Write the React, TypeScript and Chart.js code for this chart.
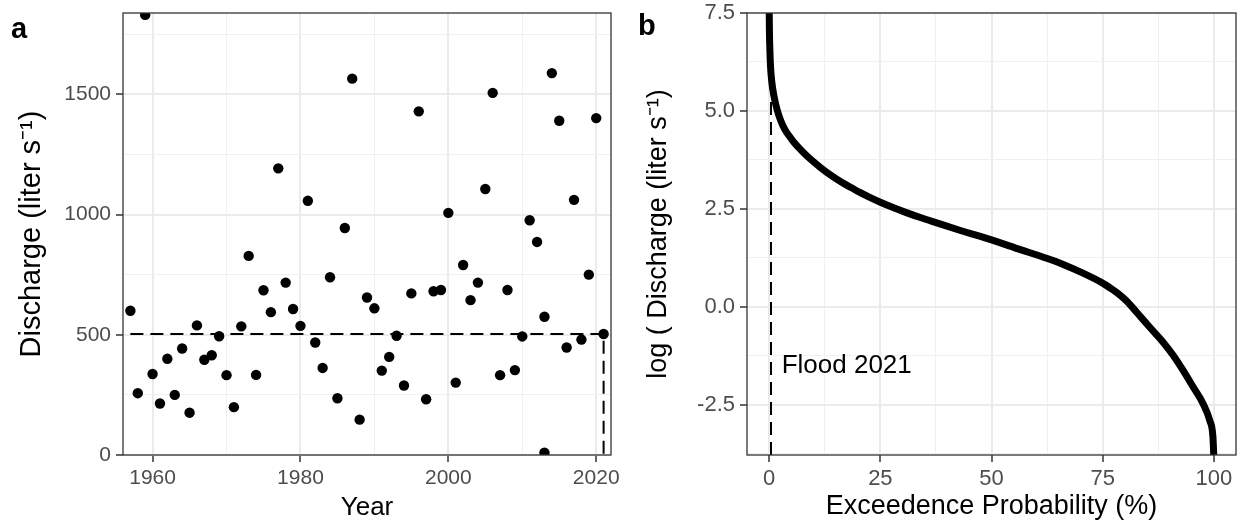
import React, { useEffect, useRef } from "react";
import { Chart, registerables } from "chart.js";

Chart.register(...registerables);

const FONT = "'Liberation Sans', Arial, Helvetica, sans-serif";

// ---------- Panel a: annual peak discharge ----------
const YEARS = [
  1957, 1958, 1959, 1960, 1961, 1962, 1963, 1964, 1965, 1966, 1967, 1968, 1969,
  1970, 1971, 1972, 1973, 1974, 1975, 1976, 1977, 1978, 1979, 1980, 1981, 1982,
  1983, 1984, 1985, 1986, 1987, 1988, 1989, 1990, 1991, 1992, 1993, 1994, 1995,
  1996, 1997, 1998, 1999, 2000, 2001, 2002, 2003, 2004, 2005, 2006, 2007, 2008,
  2009, 2010, 2011, 2012, 2013, 2013, 2014, 2015, 2016, 2017, 2018, 2019, 2020,
  2021,
];
const PEAK_DISCHARGE = [
  600, 257, 1830, 337, 214, 400, 250, 443, 176, 539, 396, 415, 494,
  332, 199, 535, 828, 333, 685, 594, 1192, 717, 607, 537, 1057, 468,
  362, 739, 236, 944, 1565, 147, 655, 610, 351, 408, 496, 289, 672,
  1429, 232, 681, 686, 1007, 301, 790, 644, 717, 1106, 1506, 332, 686,
  353, 493, 976, 886, 575, 10, 1588, 1390, 447, 1061, 480, 750, 1401,
  503,
];
const FLOOD_YEAR = 2021;
const FLOOD_DISCHARGE = 503;
const YEAR_RANGE = [1956, 2022];
const YEAR_TICKS = [1960, 1980, 2000, 2020];
const YEAR_MINOR = [1970, 1990, 2010];
const DISCHARGE_RANGE = [0, 1838];
const DISCHARGE_TICKS = [0, 500, 1000, 1500];
const DISCHARGE_MINOR = [250, 750, 1250, 1750];

// ---------- Panel b: flow duration curve ----------
const EXCEEDANCE = [
  0, 0.05, 0.15, 0.3, 0.6, 1.0, 1.8, 2.6, 3.5, 4.5, 5.5, 7.0, 8.5, 10, 11.5,
  14, 16.3, 18.5, 20.4, 22.5, 25, 28, 31, 34, 37.5, 43, 50, 56, 62.4, 66, 70.6,
  74.8, 77, 78.6, 80.4, 82.6, 85.6, 88.6, 90.9, 93.1, 95.4, 97.6, 99.1, 99.8,
  100,
];
const LOG_DISCHARGE = [
  7.51, 7.0, 6.55, 6.12, 5.72, 5.42, 5.02, 4.75, 4.53, 4.36, 4.21, 4.02, 3.85,
  3.7, 3.56, 3.35, 3.18, 3.04, 2.92, 2.8, 2.67, 2.53, 2.4, 2.28, 2.15, 1.95,
  1.71, 1.48, 1.24, 1.09, 0.86, 0.62, 0.46, 0.33, 0.15, -0.13, -0.52, -0.9,
  -1.24, -1.62, -2.05, -2.47, -2.9, -3.3, -3.78,
];
const FLOOD_EXCEEDANCE = 0.4;
const FLOOD_LABEL = "Flood 2021";
const FLOOD_LABEL_POS = [2.8, -1.5];
const PROB_RANGE = [-5, 105];
const PROB_TICKS = [0, 25, 50, 75, 100];
const PROB_MINOR = [12.5, 37.5, 62.5, 87.5];
const LOG_RANGE = [-3.78, 7.5];
const LOG_TICKS = [-2.5, 0, 2.5, 5, 7.5];
const LOG_MINOR = [-3.75, -1.25, 1.25, 3.75, 6.25];

function makeAxis(o: {
  range: number[];
  major: number[];
  minor: number[];
  fmt: (v: number) => string;
  title: string;
  titleSize: number;
  titlePad: any;
  tickSize: number;
  size: number;
  horizontal: boolean;
  labelPad: number;
}) {
  const all = [...o.major, ...o.minor].sort((a, b) => a - b);
  const isMajor = (v: any) =>
    o.major.some((m) => Math.abs(m - Number(v)) < 1e-6);
  return {
    type: "linear",
    position: o.horizontal ? "bottom" : "left",
    min: o.range[0],
    max: o.range[1],
    afterBuildTicks: (s: any) => {
      s.ticks = all.map((v) => ({ value: v }));
    },
    afterFit: (s: any) => {
      if (o.horizontal) s.height = o.size;
      else s.width = o.size;
      s.paddingTop = 0;
      s.paddingBottom = 0;
      s.paddingLeft = 0;
      s.paddingRight = 0;
    },
    grid: {
      color: (c: any) => (isMajor(c.tick?.value) ? "#EBEBEB" : "#F0F0F0"),
      lineWidth: (c: any) => (isMajor(c.tick?.value) ? 2 : 1),
      tickColor: (c: any) =>
        isMajor(c.tick?.value) ? "#333333" : "rgba(0,0,0,0)",
      tickWidth: 1.5,
      tickLength: 7,
      drawTicks: true,
    },
    border: { display: false },
    ticks: {
      autoSkip: false,
      maxRotation: 0,
      minRotation: 0,
      padding: o.labelPad,
      color: "#4D4D4D",
      font: { family: FONT, size: o.tickSize },
      callback: (v: any) => (isMajor(v) ? o.fmt(Number(v)) : ""),
    },
    title: {
      display: true,
      text: o.title,
      color: "#000000",
      font: { family: FONT, size: o.titleSize, lineHeight: 1.2 },
      padding: o.titlePad,
    },
  };
}

const panelBorder = {
  id: "panelBorder",
  afterDatasetsDraw(chart: any) {
    const { ctx, chartArea: a } = chart;
    ctx.save();
    ctx.strokeStyle = "#333333";
    ctx.lineWidth = 1.3;
    ctx.strokeRect(a.left, a.top, a.right - a.left, a.bottom - a.top);
    ctx.restore();
  },
};

const floodLabel = {
  id: "floodLabel",
  afterDatasetsDraw(chart: any) {
    const { ctx } = chart;
    const x = chart.scales.x.getPixelForValue(FLOOD_LABEL_POS[0]);
    const y = chart.scales.y.getPixelForValue(FLOOD_LABEL_POS[1]);
    ctx.save();
    ctx.font = `26px ${FONT}`;
    ctx.fillStyle = "#000000";
    ctx.textAlign = "left";
    ctx.textBaseline = "middle";
    ctx.fillText(FLOOD_LABEL, x, y);
    ctx.restore();
  },
};

const commonPlugins = {
  legend: { display: false },
  tooltip: { enabled: false },
  title: { display: false },
};

export default function App() {
  const leftRef = useRef<HTMLCanvasElement>(null);
  const rightRef = useRef<HTMLCanvasElement>(null);

  useEffect(() => {
    const left = new Chart(leftRef.current as HTMLCanvasElement, {
      type: "scatter",
      data: {
        datasets: [
          {
            data: YEARS.map((x, i) => ({ x, y: PEAK_DISCHARGE[i] })),
            pointRadius: 5.2,
            pointBackgroundColor: "#000000",
            pointBorderWidth: 0,
            showLine: false,
          } as any,
          {
            data: [
              { x: YEARS[0], y: FLOOD_DISCHARGE },
              { x: FLOOD_YEAR, y: FLOOD_DISCHARGE },
              { x: FLOOD_YEAR, y: DISCHARGE_RANGE[0] },
            ],
            showLine: true,
            pointRadius: 0,
            borderColor: "#000000",
            borderWidth: 2,
            borderDash: [13, 7],
            tension: 0,
            clip: 0,
          } as any,
        ],
      },
      options: {
        responsive: false,
        animation: false,
        events: [],
        layout: { padding: { left: 0, right: 19, top: 13, bottom: 0 } },
        plugins: commonPlugins,
        scales: {
          x: makeAxis({
            range: YEAR_RANGE,
            major: YEAR_TICKS,
            minor: YEAR_MINOR,
            fmt: (v) => String(v),
            title: "Year",
            titleSize: 26,
            titlePad: { top: 0, bottom: 2 },
            tickSize: 21,
            size: 70,
            horizontal: true,
            labelPad: 4,
          }),
          y: makeAxis({
            range: DISCHARGE_RANGE,
            major: DISCHARGE_TICKS,
            minor: DISCHARGE_MINOR,
            fmt: (v) => String(v),
            title: "Discharge (liter s\u207B\u00B9)",
            titleSize: 29,
            titlePad: { top: 15, bottom: 0 },
            tickSize: 21,
            size: 123,
            horizontal: false,
            labelPad: 5,
          }),
        } as any,
      },
      plugins: [panelBorder],
    } as any);

    const right = new Chart(rightRef.current as HTMLCanvasElement, {
      type: "scatter",
      data: {
        datasets: [
          {
            data: EXCEEDANCE.map((x, i) => ({ x, y: LOG_DISCHARGE[i] })),
            showLine: true,
            pointRadius: 0,
            borderColor: "#000000",
            borderWidth: 7,
            cubicInterpolationMode: "monotone",
            borderJoinStyle: "round",
            clip: 0,
          } as any,
          {
            data: [
              { x: FLOOD_EXCEEDANCE, y: LOG_RANGE[0] },
              { x: FLOOD_EXCEEDANCE, y: LOG_RANGE[1] },
            ],
            showLine: true,
            pointRadius: 0,
            borderColor: "#000000",
            borderWidth: 2,
            borderDash: [13, 7],
            tension: 0,
            clip: 0,
          } as any,
        ],
      },
      options: {
        responsive: false,
        animation: false,
        events: [],
        layout: { padding: { left: 0, right: 6, top: 13, bottom: 0 } },
        plugins: commonPlugins,
        scales: {
          x: makeAxis({
            range: PROB_RANGE,
            major: PROB_TICKS,
            minor: PROB_MINOR,
            fmt: (v) => String(v),
            title: "Exceedence Probability (%)",
            titleSize: 27,
            titlePad: { top: 0, bottom: 2 },
            tickSize: 22,
            size: 70,
            horizontal: true,
            labelPad: 4,
          }),
          y: makeAxis({
            range: LOG_RANGE,
            major: LOG_TICKS,
            minor: LOG_MINOR,
            fmt: (v) => v.toFixed(1),
            title: "log ( Discharge (liter s\u207B\u00B9)",
            titleSize: 27,
            titlePad: { top: 12, bottom: 0 },
            tickSize: 22,
            size: 117,
            horizontal: false,
            labelPad: 5,
          }),
        } as any,
      },
      plugins: [panelBorder, floodLabel],
    } as any);

    return () => {
      left.destroy();
      right.destroy();
    };
  }, []);

  const tagStyle = (left: number, top: number): React.CSSProperties => ({
    position: "absolute",
    left,
    top,
    font: `bold 29px ${FONT}`,
    lineHeight: "29px",
    color: "#000000",
  });

  return (
    <div
      style={{
        position: "absolute",
        left: 0,
        top: 0,
        width: 1242,
        height: 525,
        background: "#ffffff",
        overflow: "hidden",
      }}
    >
      <canvas
        ref={leftRef}
        width={630}
        height={525}
        style={{ position: "absolute", left: 0, top: 0, width: 630, height: 525 }}
      />
      <canvas
        ref={rightRef}
        width={612}
        height={525}
        style={{ position: "absolute", left: 630, top: 0, width: 612, height: 525 }}
      />
      <div style={tagStyle(11, 14)}>a</div>
      <div style={tagStyle(638, 11)}>b</div>
    </div>
  );
}
